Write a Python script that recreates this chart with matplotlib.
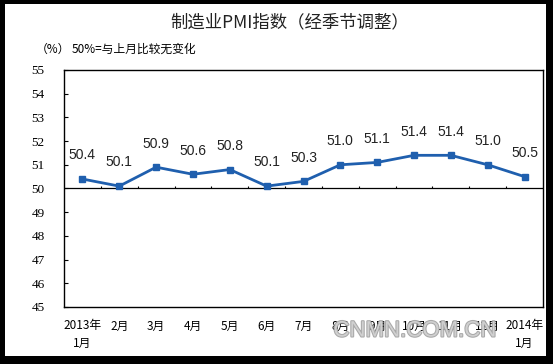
import matplotlib
matplotlib.use('Agg')
import matplotlib.pyplot as plt
from matplotlib.patches import Rectangle
import matplotlib.patheffects as pe

plt.rcParams['font.family'] = ['Noto Sans CJK SC', 'DejaVu Sans']

months = ['2013年\n1月', '2月', '3月', '4月', '5月', '6月', '7月',
          '8月', '9月', '10月', '11月', '12月', '2014年\n1月']
pmi = [50.4, 50.1, 50.9, 50.6, 50.8, 50.1, 50.3, 51.0, 51.1, 51.4, 51.4, 51.0, 50.5]
y_ticks = [45, 46, 47, 48, 49, 50, 51, 52, 53, 54, 55]

W, H = 553, 364
fig = plt.figure(figsize=(W / 100, H / 100), dpi=100, facecolor='black')
# white page inside the black frame
fig.patches.append(Rectangle((5 / W, 8 / H), 541 / W, 352 / H,
                             transform=fig.transFigure, facecolor='white',
                             edgecolor='none', zorder=-5))

ax = fig.add_axes([64 / W, (H - 307) / H, 479 / W, 237 / H])
ax.set_zorder(2)
x = list(range(len(pmi)))
blue = '#1f5fae'
ax.plot(x, pmi, color=blue, lw=2, marker='s', ms=5, zorder=3)
for xi, v in zip(x, pmi):
    ax.annotate(f'{v:.1f}', (xi, v), xytext=(0, 12), textcoords='offset points',
                ha='center', va='bottom', fontsize=10, family='Liberation Sans',
                color='#222222')

# 50 baseline with category tick marks
ax.axhline(50, color='black', lw=0.9, zorder=2)
ax.vlines([i + 0.5 for i in x[:-1]], 50, 50.12, color='black', lw=0.8)

ax.set_xlim(-0.5, len(pmi) - 0.5)
ax.set_ylim(45, 55)
ax.set_yticks(y_ticks)
ax.set_yticklabels([str(t) for t in y_ticks], family='Liberation Serif', fontsize=9.5)
ax.tick_params(axis='y', direction='in', length=3, pad=14, width=0.8)
ax.set_xticks(x)
ax.set_xticklabels(months, fontsize=8.5, linespacing=1.45)
ax.tick_params(axis='x', length=0, pad=9)
for s in ax.spines.values():
    s.set_linewidth(1.0)
    s.set_color('black')

fig.text(290 / W, 1 - 22 / H, '制造业PMI指数（经季节调整）', ha='center', va='center',
         fontsize=12.5, color='#222222')
fig.text(36 / W, 1 - 49 / H, '（%）', ha='left', va='center', fontsize=8.5)
fig.text(72 / W, 1 - 49 / H, '50%=与上月比较无变化', ha='left', va='center', fontsize=8.5)
wm = fig.text(415 / W, 1 - 331 / H, 'CNMN.COM.CN', ha='center', va='center', fontsize=16,
              family='Liberation Sans', color='#d8d8d8', alpha=0.85,
              path_effects=[pe.withStroke(linewidth=1.5, foreground='#9a9a9a')])
wm.set_zorder(10)

fig.savefig('out.png', dpi=100, facecolor=fig.get_facecolor())
